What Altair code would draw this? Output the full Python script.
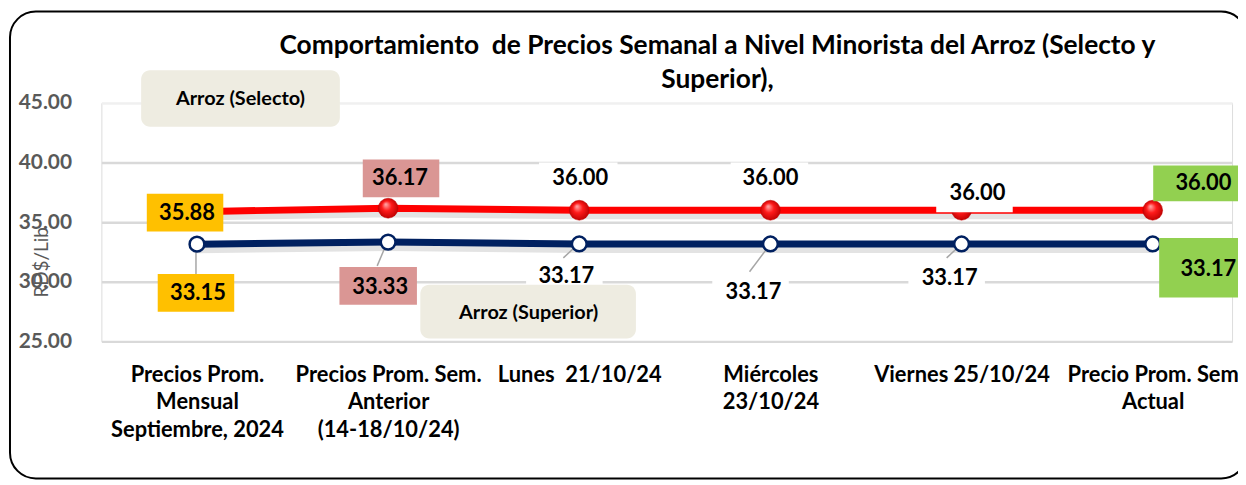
import json
import altair as alt
import pandas as pd

# ---------------- data ----------------
categorias = [
    "Precios Prom.|Mensual|Septiembre, 2024",
    "Precios Prom. Sem.|Anterior|(14-18/10/24)",
    "Lunes\u00a0 21/10/24",
    "Miércoles|23/10/24",
    "Viernes 25/10/24",
    "Precio Prom. Sem|Actual",
]
series = ["Arroz (Selecto)", "Arroz (Superior)"]
selecto = [35.88, 36.17, 36.00, 36.00, 36.00, 36.00]
superior = [33.15, 33.33, 33.17, 33.17, 33.17, 33.17]
y_ticks = [25, 30, 35, 40, 45]
titulo = ["Comportamiento\u00a0 de Precios Semanal a Nivel Minorista del Arroz (Selecto y", "Superior),"]
y_titulo = "RD$/Lib"

rows = []
for i, c in enumerate(categorias):
    rows.append({"idx": i, "categoria": c, "serie": series[0], "valor": selecto[i]})
    rows.append({"idx": i, "categoria": c, "serie": series[1], "valor": superior[i]})
df = pd.DataFrame(rows)

# ---------------- styles ----------------
FONT = "Lato"
W, H = 1138, 240
GOLD, PINK, GREEN = "#ffc000", "#da9694", "#92d050"

# label styles per point: text offset (dx, dy); box (w, h, dx, dy, fill); leader (x, y, x2, y2 offsets)
estilo_selecto = [
    {"t": (-10, 1), "box": (77, 38, -12, 1, GOLD)},
    {"t": (12, -30), "box": (77, 38, 13, -30, PINK)},
    {"t": (1, -32), "box": (79, 36, -1, -30, "white")},
    {"t": (0, -32), "box": (78, 36, -1, -30, "white")},
    {"t": (16, -17), "box": (77, 28, 13, -12, "white")},
    {"t": (51, -27), "box": (91, 36, 46, -27, GREEN)},
]
estilo_superior = [
    {"t": (1, 49), "box": (77, 38, -1, 49, GOLD), "lead": (-1, 0, -1, 30)},
    {"t": (-8, 45), "box": (78, 38, -10, 44, PINK), "lead": (-3, 5, -11, 24)},
    {"t": (-13, 32), "box": (77, 26, -15, 32, "white"), "lead": (-1, 0, -16, 14)},
    {"t": (-17, 48), "box": (77, 26, -20, 48, "white"), "lead": (0, 0, -21, 28)},
    {"t": (-12, 34), "box": (77, 26, -15, 34, "white"), "lead": (0, 0, -15, 14)},
    {"t": (56, 25), "box": (85, 60, 49, 24, GREEN)},
]

label_expr = "split(" + json.dumps(categorias, ensure_ascii=False) + "[datum.value], '|')"

X = alt.X(
    "idx:Q",
    scale=alt.Scale(domain=[-0.5, 5.415], nice=False, zero=False),
    axis=alt.Axis(
        values=list(range(len(categorias))), labelExpr=label_expr, title=None, grid=False,
        domain=False, ticks=False, labelFont=FONT, labelFontSize=22, labelFontWeight="bold",
        labelColor="black", labelPadding=23, labelLineHeight=28, labelOverlap=False,
        labelFlush=False, labelBaseline="top", labelLimit=400,
    ),
)
Y = alt.Y(
    "valor:Q",
    scale=alt.Scale(domain=[25, 45], nice=False, zero=False),
    axis=alt.Axis(
        values=y_ticks, format=".2f", title=y_titulo, grid=True,
        gridColor={"condition": {"test": "datum.value === 45", "value": "#f0f0f0"}, "value": "#d9d9d9"},
        gridWidth=2.5, domain=False, ticks=False, labelFont=FONT, labelFontSize=21,
        labelFontWeight="bold", labelColor="#595959", labelPadding=30,
        titleFont=FONT, titleFontSize=19, titleFontWeight="normal", titleColor="#595959",
        titleX=-50, titleY=160, titleAngle=270, titleBaseline="bottom", titleAlign="center",
    ),
)

base = alt.Chart(df)


def sub(s, i=None):
    c = base.transform_filter(alt.datum.serie == s)
    if i is not None:
        c = c.transform_filter(alt.datum.idx == i)
    return c


layers = []

# border (decoration)
layers.append(
    alt.Chart(df).mark_rect(fill="white", fillOpacity=0, stroke="black", strokeWidth=2, cornerRadius=26)
    .encode(x=alt.value(-92), x2=alt.value(1153), y=alt.value(-92), y2=alt.value(378))
    .transform_filter(alt.datum.idx == 0).transform_filter(alt.datum.serie == series[0])
)

# shadows
for s in series:
    layers.append(sub(s).mark_line(color="#808080", strokeWidth=8, opacity=0.22, yOffset=5).encode(x=X, y=Y))

# lines
layers.append(sub(series[0]).mark_line(color="#ff0000", strokeWidth=7).encode(x=X, y=Y))
layers.append(sub(series[1]).mark_line(color="#002060", strokeWidth=7).encode(x=X, y=Y))

# leader lines
for i, st in enumerate(estilo_superior):
    if "lead" in st:
        a, b, c2, d = st["lead"]
        layers.append(
            sub(series[1], i).mark_rule(color="#a6a6a6", strokeWidth=1.5, xOffset=a, yOffset=b, x2Offset=c2, y2Offset=d)
            .encode(x=X, y=Y, x2="idx:Q", y2="valor:Q")
        )

# markers
red_grad = {
    "gradient": "radial",
    "stops": [
        {"offset": 0, "color": "#ffb0b0"},
        {"offset": 0.45, "color": "#ff1a1a"},
        {"offset": 1, "color": "#b80000"},
    ],
    "x1": 0.38, "y1": 0.3, "r1": 0, "x2": 0.5, "y2": 0.5, "r2": 0.55,
}
layers.append(
    sub(series[0]).mark_point(shape="circle", size=400, filled=True, fill=red_grad, stroke="#c00000",
                              strokeWidth=0.5, opacity=1).encode(x=X, y=Y)
)
layers.append(
    sub(series[1]).mark_point(shape="circle", size=220, filled=True, fill="white", stroke="#002060",
                              strokeWidth=2.5, opacity=1).encode(x=X, y=Y)
)

# data labels
for s, estilos in ((series[0], estilo_selecto), (series[1], estilo_superior)):
    for i, st in enumerate(estilos):
        if "box" in st:
            w, h, bx, by, col = st["box"]
            path = f"M{-w/2},{-h/2}H{w/2}V{h/2}H{-w/2}Z"
            layers.append(
                sub(s, i).mark_point(shape=path, size=4, filled=True, fill=col, strokeWidth=0, opacity=1,
                                     xOffset=bx, yOffset=by).encode(x=X, y=Y)
            )
        tx, ty = st["t"]
        layers.append(
            sub(s, i).mark_text(font=FONT, fontSize=22, fontWeight="bold", color="black", dx=tx, dy=ty,
                                baseline="middle", align="center")
            .encode(x=X, y=Y, text=alt.Text("valor:Q", format=".2f"))
        )

# legend boxes (annotations)
leg = alt.Chart(df).transform_filter(alt.datum.idx == 0)
layers.append(
    leg.transform_filter(alt.datum.serie == series[0]).mark_rect(fill="#eeece1", cornerRadius=9)
    .encode(x=alt.value(40), x2=alt.value(240), y=alt.value(-33), y2=alt.value(24))
)
layers.append(
    leg.transform_filter(alt.datum.serie == series[0]).mark_text(font=FONT, fontSize=20, fontWeight="bold", color="black")
    .encode(x=alt.value(140), y=alt.value(-4), text="serie:N")
)
layers.append(
    leg.transform_filter(alt.datum.serie == series[1]).mark_rect(fill="#eeece1", cornerRadius=9)
    .encode(x=alt.value(321), x2=alt.value(538), y=alt.value(183), y2=alt.value(237))
)
layers.append(
    leg.transform_filter(alt.datum.serie == series[1]).mark_text(font=FONT, fontSize=20, fontWeight="bold", color="black")
    .encode(x=alt.value(430), y=alt.value(211), text="serie:N")
)

chart = (
    alt.layer(*layers)
    .properties(
        width=W, height=H,
        title=alt.TitleParams(text=titulo, font=FONT, fontSize=26.5, fontWeight="bold", color="black",
                              anchor="middle", dx=51, offset=-83, lineHeight=34),
        autosize=alt.AutoSizeParams(type="none"),
        padding={"left": 94, "top": 94, "right": 6, "bottom": 140},
    )
    .configure_view(stroke=None)
    .configure(background="white")
)

chart.save("out.html", embed_options={"renderer": "svg", "actions": False})
